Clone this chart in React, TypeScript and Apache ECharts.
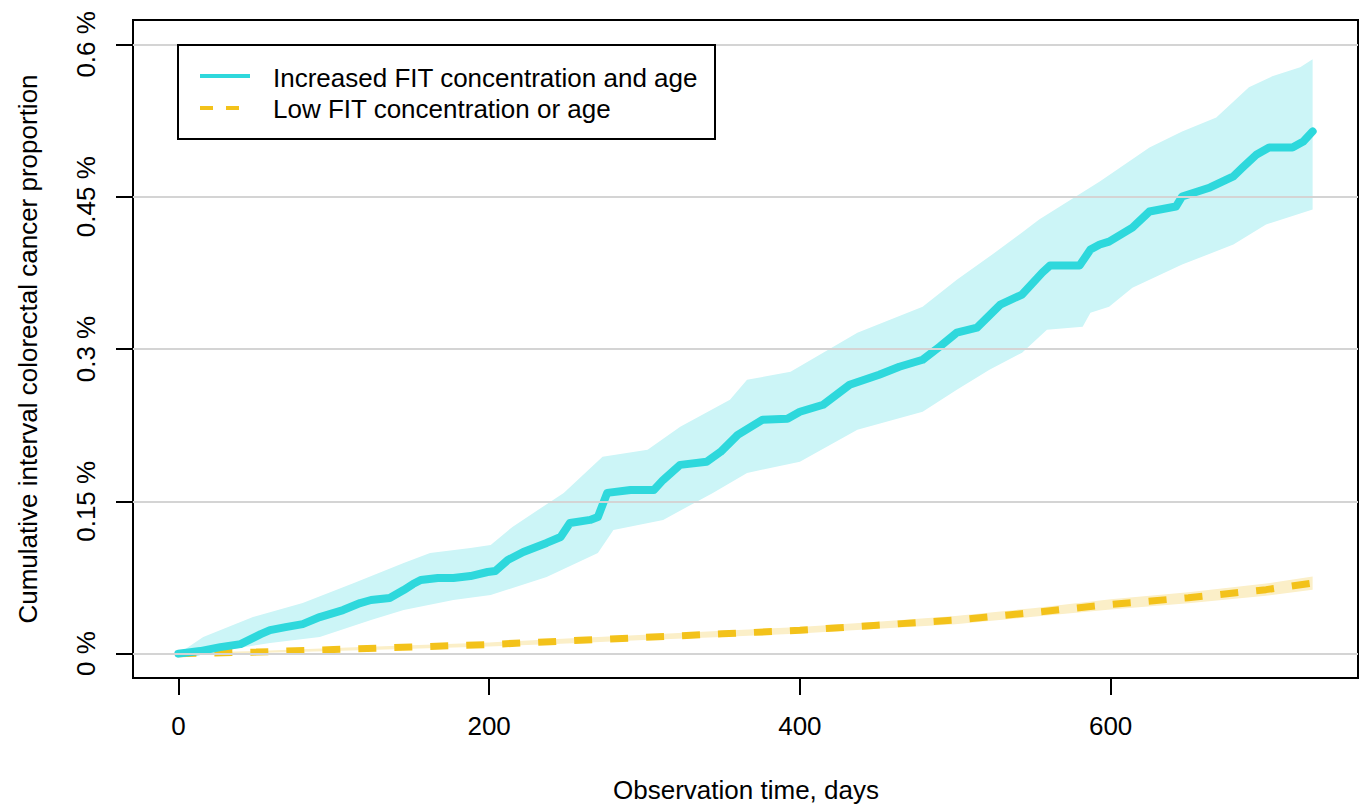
import React, { useEffect, useRef } from "react";
import * as echarts from "echarts";

// ---------- data ----------
const xTicks = [0, 200, 400, 600];
const yTicks = [0, 0.15, 0.3, 0.45, 0.6];

// Increased FIT concentration and age (cumulative proportion, %)
const incDays = [0, 14, 27, 40, 53, 59, 69, 80, 91, 106, 117, 124, 136, 145, 151, 156, 167, 177, 188, 199, 204, 212, 222, 237, 246, 252, 265, 270, 276, 291, 306, 312, 323, 340, 349, 360, 376, 392, 400, 415, 432, 451, 464, 479, 490, 501, 514, 529, 543, 556, 561, 580, 587, 593, 599, 614, 625, 642, 646, 664, 679, 685, 694, 702, 717, 724, 730];
const incValues = [0, 0.0025, 0.0064, 0.0094, 0.0192, 0.0232, 0.0261, 0.0291, 0.036, 0.0429, 0.0498, 0.0528, 0.0547, 0.0626, 0.0685, 0.0725, 0.0745, 0.0745, 0.0764, 0.0804, 0.0814, 0.0922, 0.1001, 0.109, 0.1149, 0.1287, 0.1317, 0.1346, 0.1583, 0.1612, 0.1612, 0.1711, 0.1859, 0.1889, 0.1987, 0.2155, 0.2303, 0.2313, 0.2382, 0.2451, 0.2648, 0.2747, 0.2825, 0.2894, 0.3023, 0.3161, 0.321, 0.3437, 0.3536, 0.3752, 0.3822, 0.3822, 0.3979, 0.4029, 0.4058, 0.4196, 0.4354, 0.4403, 0.4502, 0.4591, 0.4699, 0.4788, 0.4916, 0.4985, 0.4985, 0.5044, 0.5143];

const incUpperDays = [0, 16, 48, 80, 113, 145, 162, 188, 201, 215, 248, 273, 302, 323, 355, 366, 394, 437, 479, 501, 522, 543, 554, 593, 625, 646, 668, 689, 704, 722, 730];
const incUpper = [0, 0.0163, 0.036, 0.0498, 0.0695, 0.0893, 0.0991, 0.104, 0.107, 0.1248, 0.1583, 0.1938, 0.2007, 0.2234, 0.25, 0.2697, 0.2776, 0.3161, 0.3417, 0.3683, 0.391, 0.4147, 0.4275, 0.465, 0.4985, 0.5143, 0.5281, 0.5577, 0.5685, 0.5774, 0.5853];

const incLowerDays = [0, 16, 38, 59, 91, 124, 145, 177, 201, 237, 270, 280, 312, 344, 366, 400, 437, 479, 501, 522, 543, 559, 582, 587, 599, 614, 646, 679, 700, 730];
const incLower = [0, 0, 0.0054, 0.0104, 0.0163, 0.033, 0.0429, 0.0528, 0.0577, 0.0754, 0.0991, 0.1218, 0.1317, 0.1583, 0.178, 0.1889, 0.2204, 0.2382, 0.2599, 0.2796, 0.2964, 0.319, 0.322, 0.3358, 0.3417, 0.3604, 0.3831, 0.4029, 0.4226, 0.4374];

// Low FIT concentration or age
const lowDays = [0, 50, 100, 150, 200, 250, 300, 350, 400, 450, 500, 550, 600, 650, 700, 730];
const lowValues = [0, 0.0015, 0.004, 0.0065, 0.009, 0.0125, 0.016, 0.0195, 0.023, 0.028, 0.033, 0.0405, 0.0485, 0.055, 0.063, 0.0695];
const lowUpper = [0.0005, 0.0027, 0.0055, 0.0083, 0.011, 0.015, 0.0185, 0.0225, 0.0262, 0.0315, 0.037, 0.0448, 0.0535, 0.0605, 0.069, 0.076];
const lowLower = [0, 0.0005, 0.0025, 0.0047, 0.007, 0.01, 0.0135, 0.0165, 0.0198, 0.0245, 0.029, 0.0362, 0.0435, 0.0495, 0.057, 0.063];

const legendLabels = ["Increased FIT concentration and age", "Low FIT concentration or age"];
const xTitle = "Observation time, days";
const yTitle = "Cumulative interval colorectal cancer proportion";

const CYAN = "#2ED8DC";
const CYAN_BAND = "#CCF5F7";
const GOLD = "#F3C21A";
const GOLD_BAND = "#FBEFC8";
const FONT = "'Liberation Sans', Arial, Helvetica, sans-serif";

export default function App() {
  const ref = useRef<HTMLDivElement>(null);

  useEffect(() => {
    if (!ref.current) return;
    const chart = echarts.init(ref.current, null, { renderer: "svg" });

    const bandRenderer = (upD: number[], upV: number[], loD: number[], loV: number[], fill: string) =>
      (params: any, api: any) => {
        const pts: number[][] = [];
        for (let i = 0; i < upD.length; i++) pts.push(api.coord([upD[i], upV[i]]));
        for (let i = loD.length - 1; i >= 0; i--) pts.push(api.coord([loD[i], loV[i]]));
        return { type: "polygon", shape: { points: pts }, style: { fill }, silent: true };
      };

    chart.setOption({
      animation: false,
      grid: {
        left: 133,
        right: 2,
        top: 20,
        bottom: 126,
        show: true,
        borderColor: "#000",
        borderWidth: 2,
        backgroundColor: "transparent",
      },
      xAxis: {
        type: "value",
        min: -29.2,
        max: 759.2,
        axisLine: { show: false, onZero: false },
        axisTick: {
          show: true,
          customValues: xTicks,
          length: 17,
          lineStyle: { color: "#000", width: 2 },
        },
        axisLabel: {
          customValues: xTicks,
          fontSize: 26,
          color: "#000",
          fontFamily: FONT,
          margin: 35,
        },
        splitLine: { show: false },
      },
      yAxis: {
        type: "value",
        min: -0.024,
        max: 0.624,
        axisLine: { show: false, onZero: false },
        axisTick: {
          show: true,
          customValues: yTicks,
          length: 17,
          lineStyle: { color: "#000", width: 2 },
        },
        axisLabel: {
          customValues: yTicks,
          fontSize: 26,
          color: "#000",
          fontFamily: FONT,
          rotate: 90,
          margin: 34,
          formatter: (v: number) => `${v} %`,
        },
        splitLine: { show: false },
      },
      series: [
        {
          type: "custom",
          coordinateSystem: "cartesian2d",
          data: [[0, 0]],
          renderItem: bandRenderer(incUpperDays, incUpper, incLowerDays, incLower, CYAN_BAND),
          z: 1,
          silent: true,
        },
        {
          type: "custom",
          coordinateSystem: "cartesian2d",
          data: [[0, 0]],
          renderItem: bandRenderer(lowDays, lowUpper, lowDays, lowLower, GOLD_BAND),
          z: 1,
          silent: true,
        },
        {
          type: "line",
          data: [[0, 0]],
          symbol: "none",
          lineStyle: { opacity: 0 },
          z: 2,
          silent: true,
          markLine: {
            silent: true,
            symbol: ["none", "none"],
            label: { show: false },
            lineStyle: { color: "#d4d4d4", width: 2, type: "solid" },
            data: yTicks.map((v) => ({ yAxis: v })),
          },
        },
        {
          type: "line",
          name: legendLabels[1],
          data: lowDays.map((d, i) => [d, lowValues[i]]),
          symbol: "none",
          lineStyle: { color: GOLD, width: 7, type: [18, 18] },
          z: 3,
        },
        {
          type: "line",
          name: legendLabels[0],
          data: incDays.map((d, i) => [d, incValues[i]]),
          symbol: "none",
          lineStyle: { color: CYAN, width: 8, join: "round", cap: "round" },
          z: 4,
        },
      ],
      graphic: [
        {
          type: "rect",
          shape: { x: 178, y: 45, width: 537, height: 94 },
          style: { fill: "#fff", stroke: "#000", lineWidth: 2 },
          z: 100,
        },
        {
          type: "line",
          shape: { x1: 200, y1: 76, x2: 250, y2: 76 },
          style: { stroke: CYAN, lineWidth: 4 },
          z: 101,
        },
        {
          type: "line",
          shape: { x1: 200, y1: 108, x2: 239, y2: 108 },
          style: { stroke: GOLD, lineWidth: 4, lineDash: [13, 13] },
          z: 101,
        },
        {
          type: "text",
          x: 273,
          y: 78,
          style: { text: legendLabels[0], fontSize: 26, fontFamily: FONT, fill: "#000", verticalAlign: "middle" },
          z: 101,
        },
        {
          type: "text",
          x: 273,
          y: 109,
          style: { text: legendLabels[1], fontSize: 26, fontFamily: FONT, fill: "#000", verticalAlign: "middle" },
          z: 101,
        },
        {
          type: "text",
          x: 746,
          y: 790,
          style: { text: xTitle, fontSize: 26, fontFamily: FONT, fill: "#000", align: "center", verticalAlign: "middle" },
        },
        {
          type: "text",
          x: 28,
          y: 349,
          rotation: Math.PI / 2,
          style: { text: yTitle, fontSize: 26, fontFamily: FONT, fill: "#000", align: "center", verticalAlign: "middle" },
        },
      ],
    });

    return () => chart.dispose();
  }, []);

  return (
    <div
      ref={ref}
      style={{ position: "absolute", left: 0, top: 0, width: 1360, height: 804 }}
    />
  );
}
